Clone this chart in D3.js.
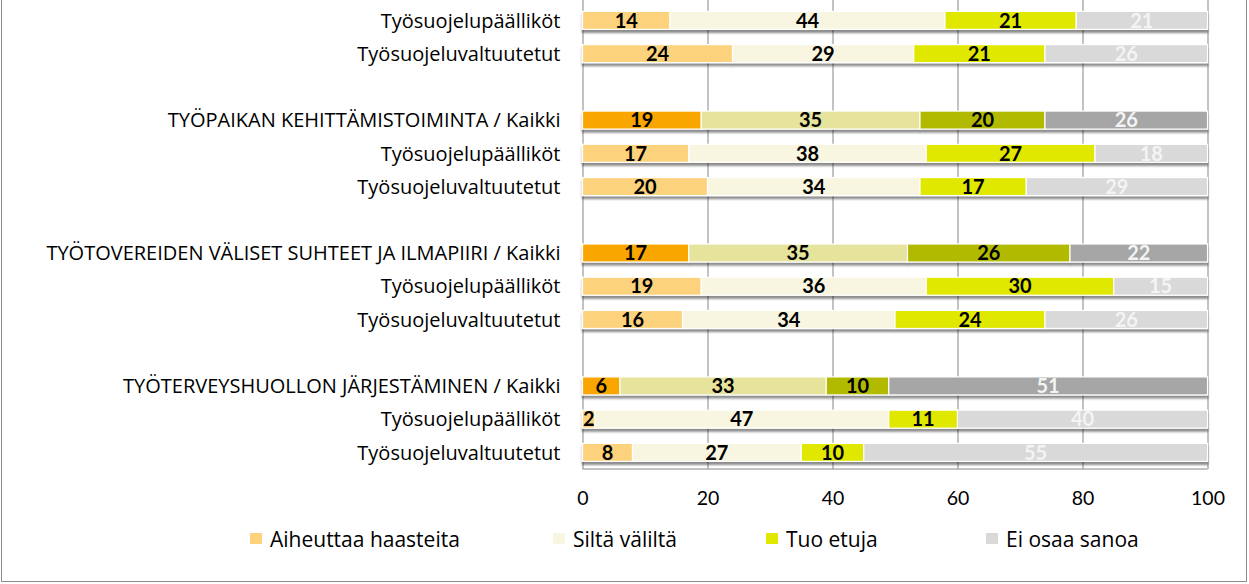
<!DOCTYPE html>
<html>
<head>
<meta charset="utf-8">
<script src="https://cdn.jsdelivr.net/npm/d3@7"></script>
<style>
  html, body { margin: 0; padding: 0; background: #fff; }
  svg { display: block; }
</style>
</head>
<body>
<svg id="chart" width="1249" height="584"></svg>
<script>
// ---- data (top of chart is cropped in the reference; a hidden slot sits above) ----
const categories = [
  "Työsuojelupäälliköt",
  "Työsuojeluvaltuutetut",
  "",
  "TYÖPAIKAN KEHITTÄMISTOIMINTA / Kaikki",
  "Työsuojelupäälliköt",
  "Työsuojeluvaltuutetut",
  "",
  "TYÖTOVEREIDEN VÄLISET SUHTEET JA ILMAPIIRI / Kaikki",
  "Työsuojelupäälliköt",
  "Työsuojeluvaltuutetut",
  "",
  "TYÖTERVEYSHUOLLON JÄRJESTÄMINEN / Kaikki",
  "Työsuojelupäälliköt",
  "Työsuojeluvaltuutetut"
];
const aiheuttaa = [14, 24, null, 19, 17, 20, null, 17, 19, 16, null, 6, 2, 8];
const silta     = [44, 29, null, 35, 38, 34, null, 35, 36, 34, null, 33, 47, 27];
const tuo       = [21, 21, null, 20, 27, 17, null, 26, 30, 24, null, 10, 11, 10];
const eiosaa    = [21, 26, null, 26, 18, 29, null, 22, 15, 26, null, 51, 40, 55];
const seriesNames = ["Aiheuttaa haasteita", "Siltä väliltä", "Tuo etuja", "Ei osaa sanoa"];
const xTicks = [0, 20, 40, 60, 80, 100];

// colours: [subgroup colour, "Kaikki" colour]
const colors = [
  ["#FDD27B", "#F9A602"],
  ["#F8F6E0", "#E6E39C"],
  ["#E1E800", "#B2BA00"],
  ["#D9D9D9", "#A6A6A6"]
];
const labelColors = ["#000", "#000", "#000", "#F4F4F4"];

const seriesValues = [aiheuttaa, silta, tuo, eiosaa];

// ---- layout ----
const svg = d3.select("#chart");
const plotLeft = 582.5, plotRight = 1207.5, plotBottom = 469;
const slotStep = 33.23;
const slots = d3.range(-1, categories.length); // -1 = cropped row above
const plotTop = plotBottom - slots.length * slotStep;

const x = d3.scaleLinear().domain([0, 100]).range([plotLeft, plotRight]);
const y = d3.scaleBand().domain(slots).range([plotTop, plotBottom])
  .paddingInner(0.458).paddingOuter(0.229);

const defs = svg.append("defs");
const f = defs.append("filter").attr("id", "shadow")
  .attr("x", "-5%").attr("y", "-30%").attr("width", "110%").attr("height", "180%");
f.append("feDropShadow").attr("dx", 0).attr("dy", 3).attr("stdDeviation", 1.3)
  .attr("flood-color", "#000").attr("flood-opacity", 0.45);

// chart border
svg.append("rect").attr("x", 1.5).attr("y", -20).attr("width", 1245).attr("height", 601.5)
  .attr("fill", "none").attr("stroke", "#8c8c8c").attr("stroke-width", 1);

// gridlines
const grid = svg.append("g").attr("transform", `translate(0,${plotBottom})`)
  .call(d3.axisBottom(x).tickValues(xTicks).tickSize(-(plotBottom - plotTop)).tickFormat(""));
grid.select(".domain").remove();
grid.selectAll("line").attr("stroke", "#868686").attr("stroke-width", 1);

// bottom axis line
svg.append("line").attr("x1", plotLeft).attr("x2", plotRight)
  .attr("y1", plotBottom).attr("y2", plotBottom).attr("stroke", "#868686");

// bars
const rows = categories.map((c, i) => ({ cat: c, i, vals: seriesValues.map(s => s[i]) }))
  .filter(r => r.vals[0] !== null);

const rowG = svg.append("g").selectAll("g.row").data(rows).join("g")
  .attr("class", "row").attr("filter", "url(#shadow)");

rowG.each(function (r) {
  const kaikki = /Kaikki/.test(r.cat);
  let acc = 0;
  const segs = r.vals.map((v, k) => { const s = { k, v, x0: acc, x1: acc + v }; acc += v; return s; });
  d3.select(this).selectAll("rect").data(segs).join("rect")
    .attr("x", d => x(d.x0)).attr("width", d => x(d.x1) - x(d.x0))
    .attr("y", y(r.i)).attr("height", y.bandwidth())
    .attr("fill", d => colors[d.k][kaikki ? 1 : 0])
    .attr("stroke", "#fff").attr("stroke-width", 1.2);
});

// value labels
rows.forEach(r => {
  let acc = 0;
  r.vals.forEach((v, k) => {
    const mid = acc + v / 2; acc += v;
    svg.append("text")
      .attr("x", x(mid)).attr("y", y(r.i) + y.bandwidth() / 2)
      .attr("dy", "0.36em").attr("text-anchor", "middle")
      .style("font-family", "Lato, sans-serif")
      .style("font-size", "20px").style("font-weight", 700)
      .attr("fill", labelColors[k]).text(v);
  });
});

// category labels
svg.append("g").selectAll("text").data(rows).join("text")
  .attr("x", plotLeft - 22).attr("y", d => y(d.i) + y.bandwidth() / 2)
  .attr("dy", "0.36em").attr("text-anchor", "end")
  .style("font-family", "'Open Sans', sans-serif")
  .style("font-size", "20px").style("font-weight", 500)
  .attr("fill", "#000")
  .text(d => d.cat);

// x tick labels
const ax = svg.append("g").attr("transform", `translate(0,${plotBottom + 22})`)
  .call(d3.axisBottom(x).tickValues(xTicks).tickSize(0).tickPadding(0));
ax.select(".domain").remove();
ax.selectAll("text").attr("fill", "#000")
  .style("font-family", "Lato, sans-serif").style("font-size", "19.5px");

// legend
const legendX = [250, 553, 766, 986];
const lg = svg.append("g").selectAll("g").data(seriesNames).join("g")
  .attr("transform", (d, i) => `translate(${legendX[i]},539)`);
lg.append("rect").attr("x", 0).attr("y", -6).attr("width", 12).attr("height", 11)
  .attr("fill", (d, i) => colors[i][0]);
lg.append("text").attr("x", 20).attr("y", 0).attr("dy", "0.36em")
  .style("font-family", "'Open Sans', sans-serif").style("font-size", "21px")
  .style("font-weight", 500)
  .attr("fill", "#000").text(d => d);
</script>
</body>
</html>
